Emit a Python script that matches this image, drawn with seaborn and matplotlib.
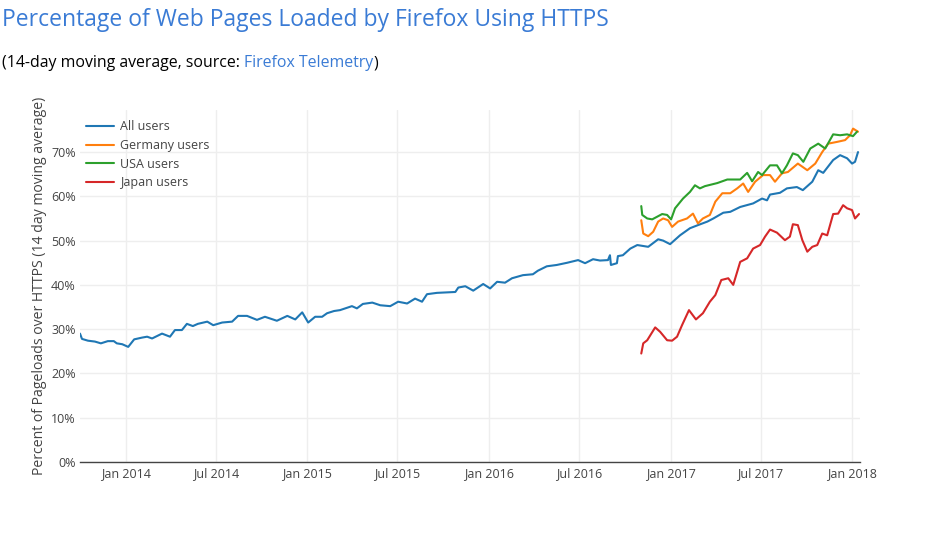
import matplotlib
matplotlib.use('Agg')
import matplotlib.pyplot as plt
import matplotlib.dates as mdates
from matplotlib.lines import Line2D
from matplotlib.ticker import FuncFormatter
import pandas as pd
import seaborn as sns

# values (percent of page loads over HTTPS)
all_dates = ['2013-10-01', '2013-10-05', '2013-10-17', '2013-10-31', '2013-11-12', '2013-11-26',
             '2013-12-08', '2013-12-14', '2013-12-25', '2014-01-06', '2014-01-18', '2014-02-03',
             '2014-02-13', '2014-02-23', '2014-03-15', '2014-03-31', '2014-04-10', '2014-04-24',
             '2014-05-04', '2014-05-16', '2014-05-26', '2014-06-14', '2014-06-26', '2014-07-14',
             '2014-08-03', '2014-08-15', '2014-09-02', '2014-09-22', '2014-10-08', '2014-11-01',
             '2014-11-22', '2014-12-08', '2014-12-22', '2015-01-03', '2015-01-17', '2015-01-31',
             '2015-02-10', '2015-02-24', '2015-03-08', '2015-04-01', '2015-04-11', '2015-04-23',
             '2015-05-12', '2015-05-28', '2015-06-17', '2015-07-03', '2015-07-21', '2015-08-06',
             '2015-08-20', '2015-08-30', '2015-09-19', '2015-10-26', '2015-11-01', '2015-11-15',
             '2015-12-01', '2015-12-21', '2016-01-04', '2016-01-18', '2016-02-03', '2016-02-17',
             '2016-03-10', '2016-03-30', '2016-04-09', '2016-04-27', '2016-05-17', '2016-06-07',
             '2016-06-29', '2016-07-13', '2016-07-29', '2016-08-12', '2016-08-28', '2016-09-01',
             '2016-09-03', '2016-09-15', '2016-09-17', '2016-09-27', '2016-10-12', '2016-10-26',
             '2016-11-17', '2016-12-07', '2016-12-17', '2016-12-31', '2017-01-20', '2017-02-09',
             '2017-02-25', '2017-03-16', '2017-03-28', '2017-04-17', '2017-05-01', '2017-05-21',
             '2017-06-16', '2017-07-04', '2017-07-14', '2017-07-20', '2017-08-09', '2017-08-23',
             '2017-09-12', '2017-09-24', '2017-10-13', '2017-10-25', '2017-11-04', '2017-11-24',
             '2017-12-08', '2017-12-22', '2018-01-01', '2018-01-07', '2018-01-13']
all_pct = [29.0, 27.8, 27.4, 27.2, 26.8, 27.3, 27.3, 26.8, 26.6, 26.0, 27.7, 28.1,
           28.3, 27.9, 29.0, 28.3, 29.8, 29.8, 31.2, 30.7, 31.2, 31.7, 30.9, 31.5,
           31.7, 33.0, 33.0, 32.1, 32.8, 31.9, 33.0, 32.2, 33.8, 31.5, 32.8, 32.8,
           33.6, 34.1, 34.3, 35.2, 34.7, 35.7, 36.0, 35.4, 35.2, 36.2, 35.8, 36.9,
           36.2, 37.9, 38.2, 38.4, 39.4, 39.7, 38.7, 40.2, 39.2, 40.7, 40.5, 41.5,
           42.2, 42.4, 43.2, 44.2, 44.5, 45.0, 45.6, 44.9, 45.8, 45.5, 45.6, 46.7,
           44.5, 44.9, 46.5, 46.7, 48.2, 49.0, 48.6, 50.3, 50.0, 49.2, 51.2, 52.8,
           53.5, 54.3, 55.0, 56.3, 56.5, 57.6, 58.4, 59.5, 59.1, 60.4, 60.8, 61.8,
           62.1, 61.4, 63.3, 65.9, 65.3, 68.2, 69.3, 68.6, 67.4, 67.8, 70.0]

germany_dates = ['2016-11-03', '2016-11-07', '2016-11-17', '2016-11-27', '2016-12-07', '2016-12-17',
                 '2016-12-27', '2017-01-04', '2017-01-16', '2017-02-03', '2017-02-15', '2017-02-25',
                 '2017-03-07', '2017-03-21', '2017-04-01', '2017-04-15', '2017-05-01', '2017-05-15',
                 '2017-05-27', '2017-06-06', '2017-06-20', '2017-07-06', '2017-07-20', '2017-07-30',
                 '2017-08-13', '2017-08-25', '2017-09-14', '2017-10-03', '2017-10-19', '2017-11-02',
                 '2017-11-14', '2017-12-02', '2017-12-18', '2017-12-28', '2018-01-03', '2018-01-13']
germany_pct = [54.6, 51.6, 51.0, 52.0, 54.3, 55.0, 54.6, 53.1, 54.3, 55.0, 56.1, 53.9,
               55.0, 55.8, 58.8, 60.7, 60.7, 61.8, 62.9, 61.0, 63.3, 64.8, 64.8, 63.3,
               65.2, 65.5, 67.4, 65.9, 67.4, 70.0, 71.9, 72.3, 72.7, 73.8, 75.3, 74.6]

usa_dates = ['2016-11-03', '2016-11-05', '2016-11-15', '2016-11-25', '2016-12-05', '2016-12-15',
             '2016-12-25', '2017-01-02', '2017-01-10', '2017-01-26', '2017-02-09', '2017-02-19',
             '2017-03-01', '2017-03-11', '2017-04-05', '2017-04-25', '2017-05-21', '2017-06-04',
             '2017-06-14', '2017-06-26', '2017-07-04', '2017-07-20', '2017-08-03', '2017-08-13',
             '2017-08-23', '2017-09-04', '2017-09-14', '2017-09-25', '2017-10-09', '2017-10-25',
             '2017-11-08', '2017-11-24', '2017-12-08', '2017-12-22', '2018-01-03', '2018-01-11']
usa_pct = [57.8, 55.8, 55.0, 54.8, 55.4, 56.0, 55.8, 54.8, 57.3, 59.5, 61.0, 62.5,
           61.8, 62.3, 63.0, 63.8, 63.8, 65.3, 63.4, 65.5, 64.8, 67.0, 67.0, 65.2,
           67.0, 69.7, 69.3, 67.8, 70.8, 71.9, 70.8, 74.0, 73.8, 74.0, 73.6, 74.6]

japan_dates = ['2016-11-03', '2016-11-07', '2016-11-15', '2016-12-01', '2016-12-11', '2016-12-25',
               '2017-01-04', '2017-01-14', '2017-01-24', '2017-02-07', '2017-02-21', '2017-03-07',
               '2017-03-21', '2017-04-01', '2017-04-13', '2017-04-27', '2017-05-07', '2017-05-21',
               '2017-06-04', '2017-06-16', '2017-06-30', '2017-07-10', '2017-07-20', '2017-08-03',
               '2017-08-19', '2017-08-29', '2017-09-04', '2017-09-14', '2017-09-23', '2017-10-03',
               '2017-10-13', '2017-10-23', '2017-11-02', '2017-11-12', '2017-11-24', '2017-12-04',
               '2017-12-14', '2017-12-22', '2018-01-01', '2018-01-07', '2018-01-15']
japan_pct = [24.5, 26.8, 27.5, 30.4, 29.4, 27.5, 27.4, 28.3, 30.9, 34.3, 32.2, 33.6,
             36.2, 37.7, 41.1, 41.5, 40.0, 45.2, 46.0, 48.2, 49.0, 50.9, 52.5, 51.8,
             50.1, 50.9, 53.7, 53.5, 50.1, 47.5, 48.6, 49.0, 51.6, 51.2, 56.0, 56.1,
             58.0, 57.3, 56.9, 55.0, 56.0]

series_names = ['All users', 'Germany users', 'USA users', 'Japan users']
series_colors = ['#1f77b4', '#ff7f0e', '#2ca02c', '#d62728']
y_ticks = [0, 10, 20, 30, 40, 50, 60, 70]
x_ticks = ['2014-01-01', '2014-07-01', '2015-01-01', '2015-07-01', '2016-01-01',
           '2016-07-01', '2017-01-01', '2017-07-01', '2018-01-01']

frames = []
for name, d, v in zip(series_names,
                      [all_dates, germany_dates, usa_dates, japan_dates],
                      [all_pct, germany_pct, usa_pct, japan_pct]):
    frames.append(pd.DataFrame({'date': pd.to_datetime(d), 'pct': v, 'series': name}))
df = pd.concat(frames, ignore_index=True)

sns.set_theme(style='white')
plt.rcParams['font.family'] = ['Open Sans', 'DejaVu Sans']

fig = plt.figure(figsize=(9.4, 5.4), dpi=100)
ax = fig.add_axes([80 / 940, 78 / 540, 780 / 940, 352 / 540])

sns.lineplot(data=df, x='date', y='pct', hue='series', hue_order=series_names,
             palette=series_colors, linewidth=1.5, ax=ax, legend=False, estimator=None)

ax.set_xlim(pd.Timestamp('2013-10-01'), pd.Timestamp('2018-01-17'))
ax.set_ylim(0, 79.5)
ax.set_yticks(y_ticks)
ax.yaxis.set_major_formatter(FuncFormatter(lambda v, p: f'{v:.0f}%'))
ax.set_xticks(pd.to_datetime(x_ticks))
ax.xaxis.set_major_formatter(mdates.DateFormatter('%b %Y'))
ax.grid(True, color='#eeeeee', linewidth=1)
ax.tick_params(axis='both', length=0, labelsize=9, colors='#444444')
ax.tick_params(axis='x', pad=4)
ax.tick_params(axis='y', pad=3)
for s in ['top', 'right', 'left']:
    ax.spines[s].set_visible(False)
ax.spines['bottom'].set_color('#444444')
ax.spines['bottom'].set_linewidth(1)
ax.set_xlabel('')
ax.set_ylabel('Percent of Pageloads over HTTPS (14 day moving average)',
              fontsize=10.1, color='#444444', labelpad=3)

handles = [Line2D([0], [0], color=c, linewidth=1.5) for c in series_colors]
ax.legend(handles, series_names, loc='upper left', bbox_to_anchor=(0.0, 1 - 4 / 352),
          frameon=False, fontsize=9, handlelength=2.2, handletextpad=0.5,
          labelspacing=0.45, borderaxespad=0.2, borderpad=0.3, labelcolor='#444444')

fig.text(2 / 940, 1 - 20 / 540, 'Percentage of Web Pages Loaded by Firefox Using HTTPS',
         fontsize=16.5, color='#3a7bd5', va='center', ha='left')

renderer = fig.canvas.get_renderer()
x = 2 / 940
for part, col in [('(14-day moving average, source: ', '#000000'),
                  ('Firefox Telemetry', '#3a7bd5'), (')', '#000000')]:
    t = fig.text(x, 1 - 63 / 540, part, fontsize=11.4, color=col, va='center', ha='left')
    bb = t.get_window_extent(renderer=renderer)
    x = bb.x1 / fig.bbox.width

fig.savefig('out.png', dpi=100)
